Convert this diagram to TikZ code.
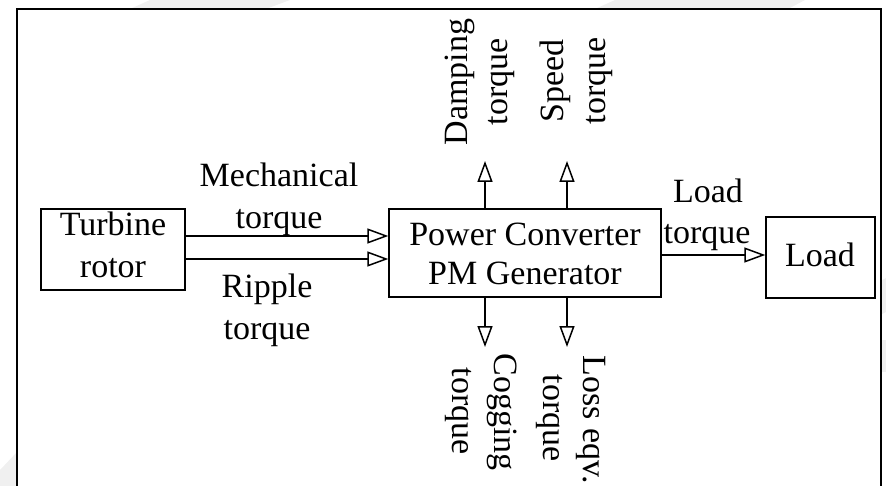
\documentclass[tikz,border=0pt]{standalone}
\usepackage{fontspec}
\setmainfont{Liberation Serif}
\usetikzlibrary{arrows.meta}
\tikzset{
  box/.style={draw, line width=1.4pt, inner sep=0pt},
  txt/.style={font=\fontsize{34}{41}\selectfont, inner sep=0pt, anchor=base},
  flow/.style={line width=2.4pt, -{Triangle[open, length=21pt, width=15pt, line width=1.5pt]}},
  frameline/.style={line width=2pt},
  wm/.style={fill=black!6, draw=none}
}
\begin{document}
\begin{tikzpicture}[x=1pt,y=-1pt]
\useasboundingbox (0,0) rectangle (886,486);
% faint watermark shapes outside frame
\fill[wm] (130,9) -- (150,0) -- (290,0) -- (266,9) -- cycle;
\fill[wm] (595,9) -- (615,0) -- (805,0) -- (788,9) -- cycle;
\fill[wm] (882,280) -- (886,278) -- (886,312) -- (882,314) -- cycle;
\fill[wm] (882,340) -- (886,340) -- (886,372) -- (882,372) -- cycle;
\fill[wm] (0,470) -- (17,452) -- (17,486) -- (0,486) -- cycle;
% frame
\draw[frameline] (17,495) -- (17,9) -- (881,9) -- (881,495);
% boxes
\node[box, minimum width=144pt, minimum height=81pt] (turb) at (113,249.5) {};
\node[box, minimum width=272pt, minimum height=88pt] (pm) at (525,253) {};
\node[box, minimum width=109pt, minimum height=81pt] (load) at (820.5,257.5) {};
% box texts
\node[txt] (turb1) at (113,236) {Turbine};
\node[txt] (turb2) at (113,278) {rotor};
\node[txt] (pm1) at (525,246) {Power Converter};
\node[txt] (pm2) at (525,285) {PM Generator};
\node[txt] (load1) at (820,267) {Load};
% horizontal arrows
\coordinate (ymech) at (0,236);
\coordinate (yrip) at (0,259);
\coordinate (yload) at (0,255);
\draw[flow] (turb.east |- ymech) -- (pm.west |- ymech);
\draw[flow] (turb.east |- yrip) -- (pm.west |- yrip);
\draw[flow] (pm.east |- yload) -- (load.west |- yload);
% vertical arrows
\coordinate (dampEnd) at (485,161);
\coordinate (speedEnd) at (567,161);
\coordinate (cogEnd) at (485,347);
\coordinate (lossEnd) at (567,347);
\draw[flow] (pm.north -| dampEnd) -- (dampEnd);
\draw[flow] (pm.north -| speedEnd) -- (speedEnd);
\draw[flow] (pm.south -| cogEnd) -- (cogEnd);
\draw[flow] (pm.south -| lossEnd) -- (lossEnd);
% labels
\node[txt] (mech1) at (279,187) {Mechanical};
\node[txt] (mech2) at (279,229) {torque};
\node[txt] (rip1) at (267,298) {Ripple};
\node[txt] (rip2) at (267,339) {torque};
\node[txt] (lt1) at (708,203) {Load};
\node[txt] (lt2) at (707,244) {torque};
\node[txt, rotate=90] (damp1) at (467,82) {Damping};
\node[txt, rotate=90] (damp2) at (507,82) {torque};
\node[txt, rotate=90] (speed1) at (563,81) {Speed};
\node[txt, rotate=90] (speed2) at (605,81) {torque};
\node[txt, rotate=-90] (cog1) at (494,412) {Cogging};
\node[txt, rotate=-90] (cog2) at (452,411) {torque};
\node[txt, rotate=-90] (loss1) at (583,420) {Loss eqv.};
\node[txt, rotate=-90] (loss2) at (543,418) {torque};
\end{tikzpicture}
\end{document}
